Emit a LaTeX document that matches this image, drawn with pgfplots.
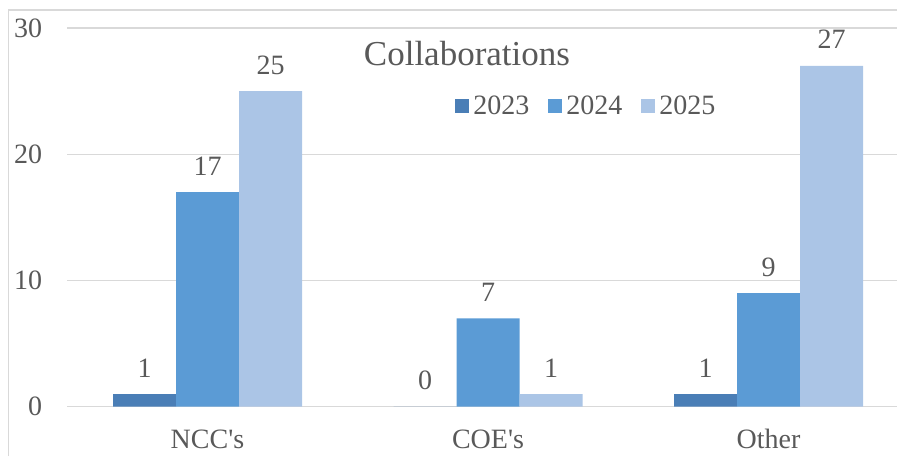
\documentclass[border=0pt]{standalone}
\usepackage{pgfplots}
\pgfplotsset{compat=1.18}
\usepackage{fontspec}
\setmainfont{Liberation Serif}
\definecolor{cA}{RGB}{74,126,182}
\definecolor{cB}{RGB}{91,155,213}
\definecolor{cC}{RGB}{171,197,230}
\definecolor{gridc}{RGB}{217,217,217}
\definecolor{txt}{RGB}{89,89,89}
\newcommand{\tfont}{\fontsize{28}{30}\selectfont}
\begin{document}
\begin{tikzpicture}[x=1pt,y=1pt]
\useasboundingbox (0,0) rectangle (897,456);
\draw[gridc, line width=1.5pt] (8.5,0) -- (8.5,446) -- (897,446);
\begin{axis}[
  at={(67.25pt,49.3pt)}, anchor=south west,
  scale only axis, width=841.5pt, height=378.7pt,
  xmin=-0.5, xmax=2.5, ymin=0, ymax=30,
  ybar=0pt, bar width=63pt,
  xtick={0,1,2}, xticklabels={NCC\textquotesingle s, COE\textquotesingle s, Other},
  ytick={0,10,20,30},
  ymajorgrids, grid style={gridc, line width=1.3pt},
  axis line style={draw=none},
  major tick length=0pt, tick style={draw=none},
  /pgf/number format/assume math mode=true,
  xticklabel style={font=\tfont, text=txt, anchor=base, yshift=-41.3pt},
  yticklabel style={font=\tfont, text=txt, anchor=east, inner sep=0pt, xshift=-25pt},
  nodes near coords,
  every node near coord/.append style={font=\tfont, text=txt, anchor=base, inner sep=0pt, yshift=17pt},
  legend style={at={(0.6164,0.794)}, anchor=center, draw=none, fill=none,
    legend columns=-1, font=\tfont, text=txt,
    nodes={inner sep=1pt},
    /tikz/every even column/.append style={column sep=18pt},
    /tikz/every odd column/.append style={column sep=3pt}},
  legend image code/.code={\draw[#1, draw=none] (0pt,-7pt) rectangle (14pt,7pt);},
]
\addplot[fill=cA, draw=none] coordinates {(0,1) (1,0) (2,1)};
\addplot[fill=cB, draw=none] coordinates {(0,17) (1,7) (2,9)};
\addplot[fill=cC, draw=none] coordinates {(0,25) (1,1) (2,27)};
\legend{2023, 2024, 2025}
\node[font=\fontsize{35}{38}\selectfont, text=txt, anchor=base] at (rel axis cs:0.475,0.902) {Collaborations};
\end{axis}
\end{tikzpicture}
\end{document}
